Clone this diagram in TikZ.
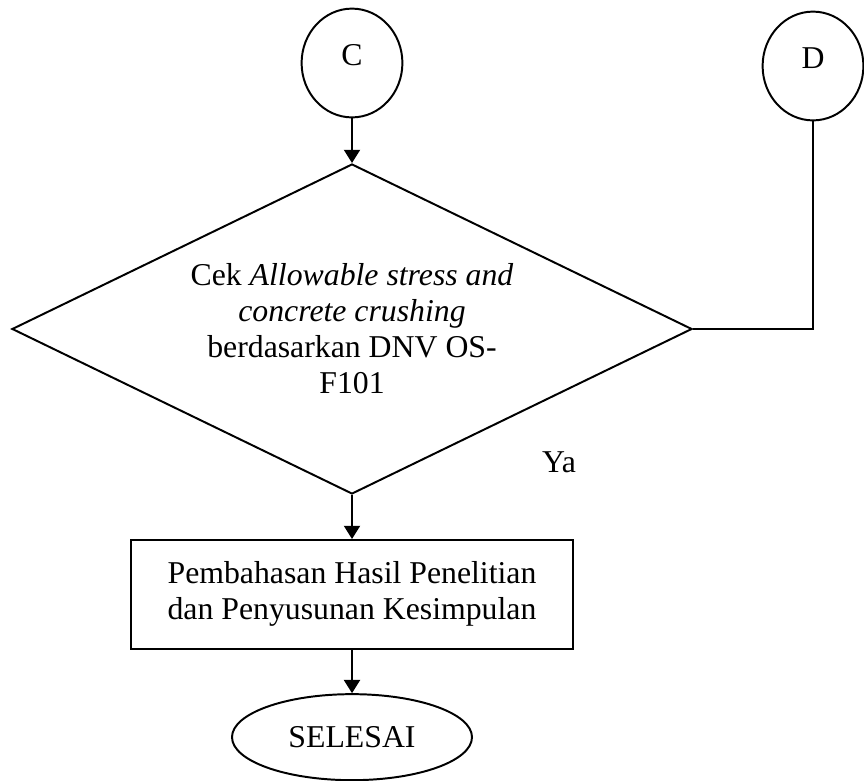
\documentclass[tikz,border=0pt]{standalone}
\usepackage{fontspec}
\setmainfont{Liberation Serif}
\usetikzlibrary{arrows.meta}
\usetikzlibrary{shapes.geometric}
\usetikzlibrary{positioning}

\begin{document}
\begin{tikzpicture}[font=\fontsize{22.6}{25.6}\selectfont, line width=1.4pt, >={Triangle[width=0.4cm, length=0.33cm]}]
    \tikzset{Connector/.style={ellipse, draw, inner sep=0pt, minimum width=2.52cm, minimum height=2.72cm, text depth=0.4cm}};
    \tikzset{Decision/.style={diamond, draw, align=center, aspect=2, inner sep=0pt, minimum width=17cm, minimum height=8.25cm}};
    \tikzset{Process/.style={rectangle, draw, align=center, minimum width=11.07cm, minimum height=2.72cm}};
    \tikzset{Terminal/.style={ellipse, draw, inner sep=0pt, minimum width=6cm, minimum height=2.15cm}};

    \useasboundingbox (0,0) rectangle (21.6,-19.5);

    \node[Connector](C) at (8.8,-1.575){C};
    \node[Connector](D) at (20.325,-1.65){D};
    \node[Decision, below=2.5 of C.center](cek){Cek \textit{Allowable stress and}\\\textit{concrete crushing}\\berdasarkan DNV OS-\\F101};
    \node[Process, below=5.25 of cek.center](bahas){Pembahasan Hasil Penelitian\\dan Penyusunan Kesimpulan};
    \node[Terminal, below=2.47 of bahas.center](selesai){SELESAI};
    \node (ya) at (13.975,-11.55) {Ya};

    \draw[->] (C) --(cek);
    \draw[->] (cek) --(bahas);
    \draw[->] (bahas) --(selesai);
    \draw (D) |-(cek.east);
\end{tikzpicture}
\end{document}
